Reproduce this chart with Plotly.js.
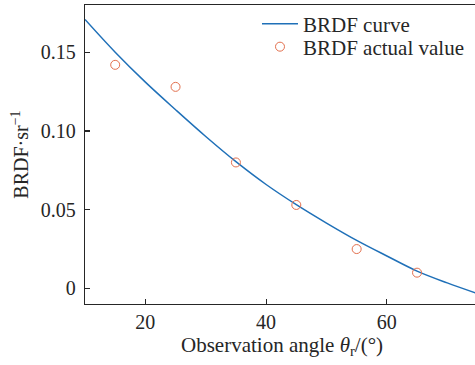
<!DOCTYPE html>
<html>
<head>
<meta charset="utf-8">
<script src="https://cdn.plot.ly/plotly-3.0.1.min.js"></script>
<style>html,body{margin:0;padding:0;background:#fff;}#chart{width:475px;height:365px;}</style>
</head>
<body>
<div id="chart"></div>
<script>
// BRDF fitted curve
const curveAngles = [10, 15, 20, 25, 30, 35, 40, 45, 50, 55, 60, 65, 70, 75];
const curveValues = [0.1708, 0.150, 0.131, 0.1135, 0.0965, 0.0805, 0.066, 0.0532, 0.0415, 0.0305, 0.0206, 0.0110, 0.0035, -0.0033];
// BRDF measured points
const pointAngles = [15, 25, 35, 45, 55, 65, 75];
const pointValues = [0.142, 0.128, 0.080, 0.053, 0.025, 0.010, 0.000];
// ticks
const xTickVals = [20, 40, 60];
const yTickVals = [0, 0.05, 0.10, 0.15];
const yTickText = ['0', '0.05', '0.10', '0.15'];

const serif = 'Liberation Serif';
const axisColor = '#262626';
const txt = '#262626';

const traces = [
  {
    x: curveAngles, y: curveValues, type: 'scatter', mode: 'lines',
    name: 'BRDF curve', legend: 'legend',
    line: {color: '#1f70b8', width: 1.5, shape: 'spline', smoothing: 1},
    cliponaxis: true
  },
  {
    x: pointAngles, y: pointValues, type: 'scatter', mode: 'markers',
    name: 'BRDF actual value', legend: 'legend2',
    marker: {symbol: 'circle-open', size: 9, color: '#e3704e', line: {width: 1, color: '#e3704e'}},
    cliponaxis: false
  }
];

const legendBase = {
  xanchor: 'left', yanchor: 'top',
  bgcolor: 'rgba(0,0,0,0)', font: {family: serif, size: 21, color: txt},
  itemwidth: 36, tracegroupgap: 0
};

const layout = {
  width: 475, height: 365,
  margin: {l: 85, r: 0, t: 5, b: 61},
  paper_bgcolor: '#fff', plot_bgcolor: '#fff',
  font: {family: serif, size: 20, color: txt},
  showlegend: true,
  legend: Object.assign({}, legendBase, {x: 0.441, y: 1.005}),
  legend2: Object.assign({}, legendBase, {x: 0.441, y: 0.928}),
  xaxis: {
    range: [10, 74.6], tickvals: xTickVals,
    ticks: 'inside', ticklen: 5, tickwidth: 1.2, tickcolor: axisColor,
    showline: true, linecolor: axisColor, linewidth: 1.3, mirror: true,
    showgrid: false, zeroline: false,
    tickfont: {family: serif, size: 20, color: txt}
  },
  yaxis: {
    range: [-0.0099, 0.18], tickvals: yTickVals, ticktext: yTickText,
    ticks: 'inside', ticklen: 5, tickwidth: 1.2, tickcolor: axisColor,
    showline: true, linecolor: axisColor, linewidth: 1.3,
    showgrid: false, zeroline: false, ticklabelstandoff: 4,
    tickfont: {family: serif, size: 20, color: txt},
    title: {text: 'BRDF·sr<sup>−1</sup>', font: {family: serif, size: 20, color: txt}, standoff: 6}
  },
  annotations: [
    {
      xref: 'paper', yref: 'paper', x: 0.504, y: 0, yshift: -27,
      xanchor: 'center', yanchor: 'top', showarrow: false,
      text: 'Observation angle <i>θ</i><sub>r</sub>/(°)',
      font: {family: serif, size: 21, color: txt}
    }
  ]
};

Plotly.newPlot('chart', traces, layout, {staticPlot: true, displayModeBar: false});
</script>
</body>
</html>
